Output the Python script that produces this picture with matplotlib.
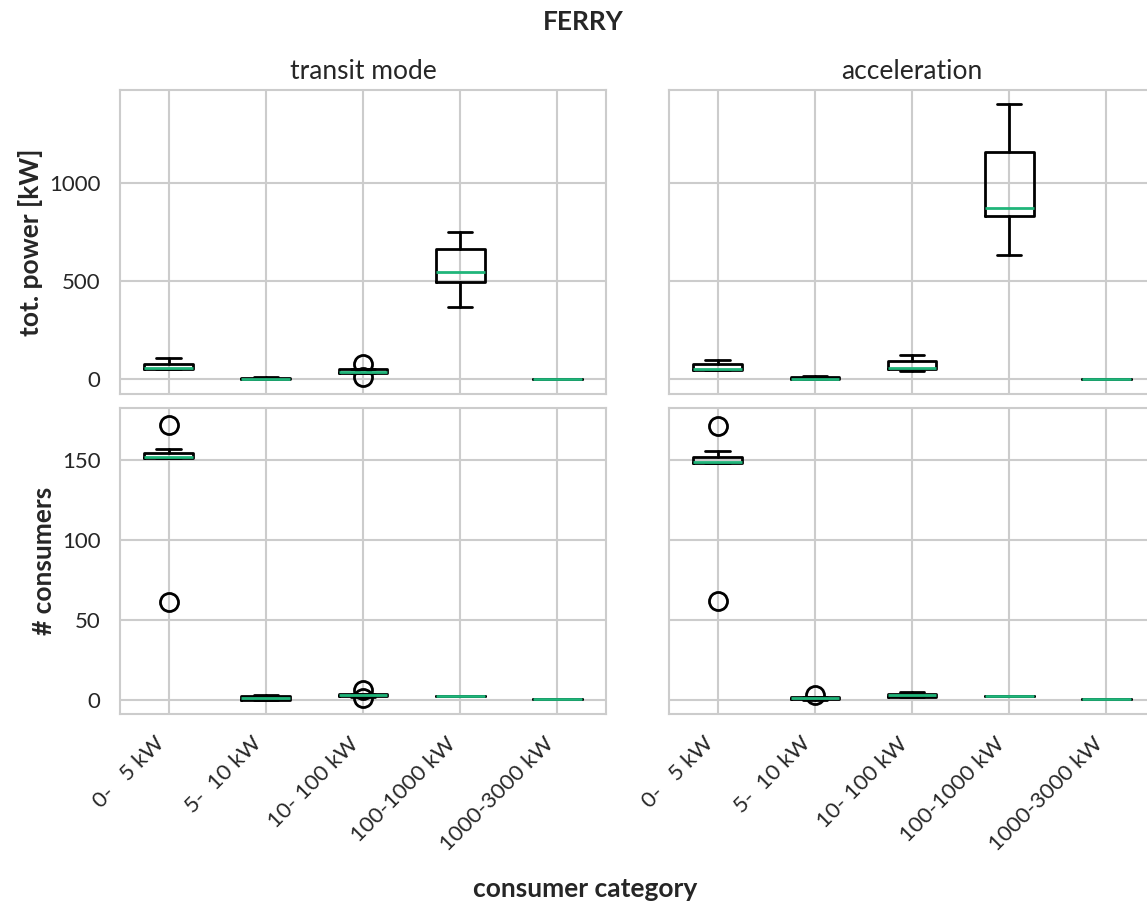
import matplotlib
matplotlib.use("Agg")
import matplotlib.pyplot as plt
import seaborn as sns

sns.set_style("whitegrid")
plt.rcParams['font.family'] = ['Lato', 'DejaVu Sans']

# Consumer categories (power classes)
cat_lo = [0, 5, 10, 100, 1000]
cat_hi = [5, 10, 100, 1000, 3000]
categories = [f"{lo}-{hi:>4} kW" for lo, hi in zip(cat_lo, cat_hi)]

# Box statistics per category: (whislo, q1, median, q3, whishi)
transit_power = [(52, 55, 57, 77, 107), (0, 1, 4, 9, 14), (31, 31, 37, 51, 51),
                 (367, 495, 546, 663, 750), (0, 0, 0, 0, 0)]
transit_power_fliers = [[], [], [77, 10], [], []]

accel_power = [(45, 46, 51, 80, 97), (0, 2, 4, 12, 17), (42, 54, 60, 92, 122),
               (633, 832, 872, 1158, 1403), (0, 0, 0, 0, 0)]
accel_power_fliers = [[], [], [], [], []]

transit_count = [(151, 151, 152, 154.5, 157), (0, 0, 1, 2.5, 3), (2, 2.5, 3, 4, 4),
                 (2.5, 2.5, 2.5, 2.5, 2.5), (0.5, 0.5, 0.5, 0.5, 0.5)]
transit_count_fliers = [[172, 61], [], [6, 1], [], []]

accel_count = [(148, 148, 149, 152, 155.5), (0, 0.5, 1, 2, 2), (2, 2, 3, 4, 5),
               (2.5, 2.5, 2.5, 2.5, 2.5), (0.5, 0.5, 0.5, 0.5, 0.5)]
accel_count_fliers = [[171.5, 62], [3], [], [], []]

median_green = "#20b57a"
text_col = "#262626"


def to_bxp(stats, fliers):
    out = []
    for (lo, q1, med, q3, hi), fl in zip(stats, fliers):
        out.append(dict(whislo=lo, q1=q1, med=med, q3=q3, whishi=hi, fliers=fl))
    return out


def draw_box(ax, stats, fliers):
    ax.bxp(to_bxp(stats, fliers), positions=range(1, len(categories) + 1), widths=0.5,
           boxprops=dict(color="black", linewidth=2),
           whiskerprops=dict(color="black", linewidth=2),
           capprops=dict(color="black", linewidth=2),
           medianprops=dict(color=median_green, linewidth=2),
           flierprops=dict(marker="o", markerfacecolor="none", markeredgecolor="black",
                           markersize=13, markeredgewidth=2))
    ax.set_xlim(0.5, len(categories) + 0.5)
    ax.grid(True, color="#cccccc", linewidth=1.5)
    for sp in ax.spines.values():
        sp.set_color("#cccccc")
        sp.set_linewidth(1.5)
    ax.tick_params(axis="y", labelsize=16, colors=text_col, length=0, pad=14)
    ax.tick_params(axis="x", labelsize=16, colors=text_col, length=0, pad=14)


fig = plt.figure(figsize=(11.47, 9.01), dpi=100)
W, H = 1147, 901

ax_tp = fig.add_axes([120 / W, 1 - 394 / H, 486 / W, 304 / H])
ax_ap = fig.add_axes([669 / W, 1 - 394 / H, 486 / W, 304 / H], sharey=ax_tp)
ax_tc = fig.add_axes([120 / W, 1 - 714 / H, 486 / W, 306 / H], sharex=ax_tp)
ax_ac = fig.add_axes([669 / W, 1 - 714 / H, 486 / W, 306 / H], sharey=ax_tc, sharex=ax_ap)

draw_box(ax_tp, transit_power, transit_power_fliers)
draw_box(ax_ap, accel_power, accel_power_fliers)
draw_box(ax_tc, transit_count, transit_count_fliers)
draw_box(ax_ac, accel_count, accel_count_fliers)

ax_tp.set_ylim(-75, 1475)
ax_tp.set_yticks([0, 500, 1000])
ax_tc.set_ylim(-8.7, 182.5)
ax_tc.set_yticks([0, 50, 100, 150])

for ax in (ax_tp, ax_ap):
    ax.tick_params(labelbottom=False)
for ax in (ax_ap, ax_ac):
    ax.tick_params(labelleft=False)
for ax in (ax_tc, ax_ac):
    ax.set_xticks(range(1, len(categories) + 1))
    ax.set_xticklabels(categories, rotation=45, ha="right")

ax_tp.set_title("transit mode", fontsize=19, color=text_col, pad=8)
ax_ap.set_title("acceleration", fontsize=19, color=text_col, pad=8)
ax_tp.set_ylabel("tot. power [kW]", fontsize=19, fontweight="bold", color=text_col, labelpad=4)
ax_tc.set_ylabel("# consumers", fontsize=19, fontweight="bold", color=text_col, labelpad=4)

fig.text(583 / W, 1 - 22 / H, "FERRY", ha="center", va="center", fontsize=19,
         fontweight="bold", color=text_col)
fig.text(585 / W, 1 - 897 / H, "consumer category", ha="center", va="baseline",
         fontsize=19, fontweight="bold", color=text_col)

fig.savefig("out.png", dpi=100)
